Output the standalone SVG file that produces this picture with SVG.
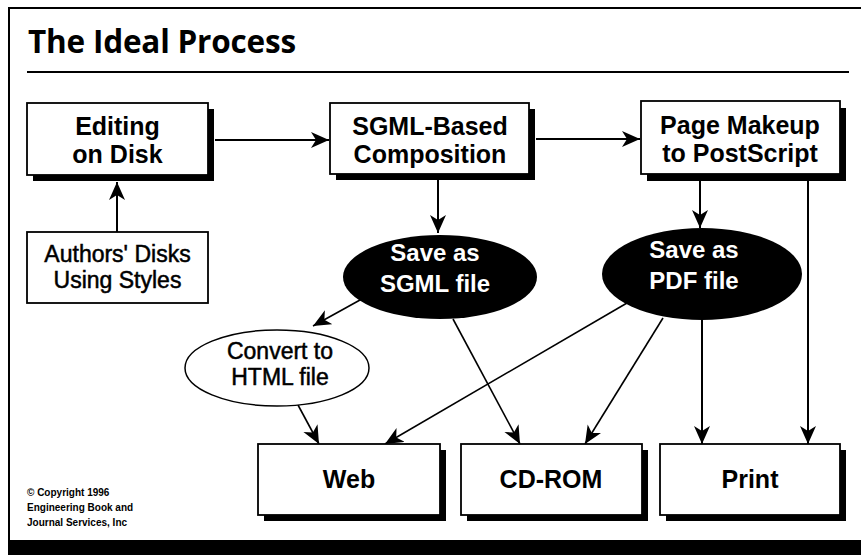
<svg xmlns="http://www.w3.org/2000/svg" width="861" height="557" viewBox="0 0 861 557">
<defs>
<style>
.box{fill:#fff;stroke:#000;stroke-width:1.8}
.shadow{fill:#000}
.bt{font-family:"Liberation Sans",Arial,sans-serif;font-weight:bold;font-size:25px;fill:#000;text-anchor:middle}
.rt{font-family:"Liberation Sans",Arial,sans-serif;font-size:23px;fill:#000;stroke:#000;stroke-width:0.5;text-anchor:middle}
.wt{font-family:"Liberation Sans",Arial,sans-serif;font-weight:bold;font-size:24px;fill:#fff;text-anchor:middle}
.conn{stroke:#000;stroke-width:2;fill:none;marker-end:url(#ah)}
.thin{stroke-width:1.6}
</style>
<marker id="ah" markerUnits="userSpaceOnUse" markerWidth="20" markerHeight="18" refX="18" refY="8" orient="auto">
<path d="M0,0 L18,8 L0,16 L5,8 z" fill="#000"/>
</marker>
</defs>
<rect x="0" y="0" width="861" height="557" fill="#fff"/>
<g id="frame">
<line x1="8" y1="8" x2="861" y2="8" stroke="#000" stroke-width="2"/>
<line x1="9" y1="8" x2="9" y2="541" stroke="#000" stroke-width="2"/>
<rect x="8" y="540" width="853" height="15" fill="#000"/>
<text x="28" y="53" font-family="'Open Sans','Liberation Sans',sans-serif" font-weight="bold" font-size="31.5" letter-spacing="-0.2">The Ideal Process</text>
<line x1="27" y1="72" x2="849" y2="72" stroke="#000" stroke-width="2.2"/>
</g>
<g id="connectors">
<line class="conn" x1="117" y1="232" x2="117" y2="182"/>
<line class="conn" x1="215" y1="140" x2="329" y2="140"/>
<line class="conn" x1="536" y1="139" x2="640" y2="139"/>
<line class="conn" x1="438" y1="180" x2="438" y2="233"/>
<line class="conn" x1="700" y1="181" x2="700" y2="228"/>
<line class="conn" x1="808" y1="181" x2="808" y2="444"/>
<line class="conn thin" x1="360" y1="300" x2="313" y2="326"/>
<line class="conn thin" x1="298" y1="405" x2="319" y2="444"/>
<line class="conn thin" x1="627" y1="303" x2="385" y2="444"/>
<line class="conn thin" x1="453" y1="319" x2="520" y2="444"/>
<line class="conn thin" x1="663" y1="318" x2="585" y2="444"/>
<line class="conn" x1="702" y1="320" x2="702" y2="444"/>
</g>
<g id="editing">
<rect class="shadow" x="33" y="109" width="181" height="72"/>
<rect class="box" x="27" y="103" width="181" height="72"/>
<text class="bt" x="117.5" y="135">Editing</text>
<text class="bt" x="117.5" y="163">on Disk</text>
</g>
<g id="sgml-comp">
<rect class="shadow" x="336" y="109" width="199" height="71"/>
<rect class="box" x="330" y="103" width="199" height="71"/>
<text class="bt" x="430" y="135">SGML-Based</text>
<text class="bt" x="430" y="163">Composition</text>
</g>
<g id="page-makeup">
<rect class="shadow" x="647" y="108" width="199" height="73"/>
<rect class="box" x="641" y="101" width="199" height="73"/>
<text class="bt" x="740" y="134">Page Makeup</text>
<text class="bt" x="740" y="162">to PostScript</text>
</g>
<g id="authors">
<rect class="box" x="27" y="232" width="181" height="71"/>
<text class="rt" x="117.5" y="262">Authors' Disks</text>
<text class="rt" x="117.5" y="288">Using Styles</text>
</g>
<g id="save-sgml">
<ellipse cx="440" cy="277" rx="97" ry="42" fill="#000"/>
<text class="wt" x="435" y="261">Save as</text>
<text class="wt" x="435" y="292">SGML file</text>
</g>
<g id="save-pdf">
<ellipse cx="702" cy="274" rx="100" ry="46" fill="#000"/>
<text class="wt" x="694" y="258">Save as</text>
<text class="wt" x="694" y="289">PDF file</text>
</g>
<g id="convert-html">
<ellipse cx="277" cy="368" rx="92" ry="38" fill="#fff" stroke="#000" stroke-width="1.5"/>
<text class="rt" x="280" y="359">Convert to</text>
<text class="rt" x="280" y="385">HTML file</text>
</g>
<g id="web">
<rect class="shadow" x="264" y="450" width="182" height="71"/>
<rect class="box" x="258" y="444" width="182" height="71"/>
<text class="bt" x="349" y="488">Web</text>
</g>
<g id="cd-rom">
<rect class="shadow" x="467" y="450" width="181" height="71"/>
<rect class="box" x="461" y="444" width="181" height="71"/>
<text class="bt" x="551" y="488">CD-ROM</text>
</g>
<g id="print">
<rect class="shadow" x="666" y="450" width="180" height="71"/>
<rect class="box" x="660" y="444" width="180" height="71"/>
<text class="bt" x="750" y="488">Print</text>
</g>
<g id="copyright" font-family="'Liberation Sans',sans-serif" font-weight="bold" font-size="10" fill="#000">
<text x="27" y="496">© Copyright 1996</text>
<text x="27" y="511">Engineering Book and</text>
<text x="27" y="526">Journal Services, Inc</text>
</g>
</svg>
